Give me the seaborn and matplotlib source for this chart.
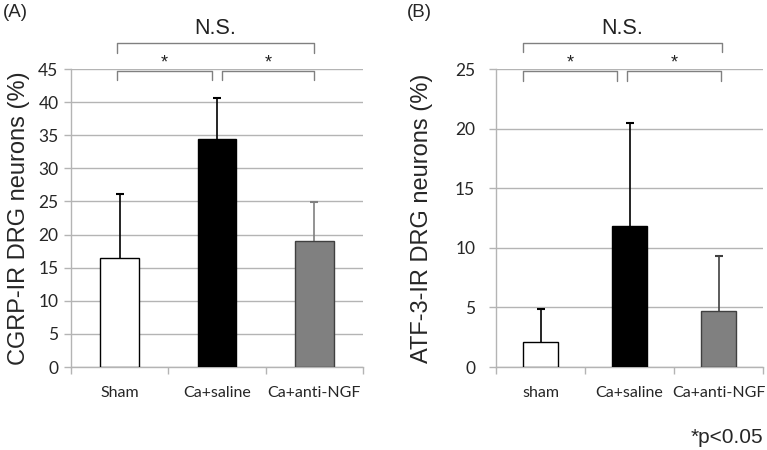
import matplotlib
matplotlib.use("Agg")
import matplotlib.pyplot as plt
import matplotlib.transforms as mtransforms
import numpy as np
import pandas as pd
import seaborn as sns

# data
groups_a = ["Sham", "Ca+saline", "Ca+anti-NGF"]
cgrp_mean = [16.4, 34.4, 19.1]
cgrp_sd = [9.7, 6.2, 5.8]

groups_b = ["sham", "Ca+saline", "Ca+anti-NGF"]
atf3_mean = [2.1, 11.8, 4.7]
atf3_sd = [2.8, 8.7, 4.6]

bar_colors = ["#ffffff", "#000000", "#808080"]
edge_colors = ["#000000", "#000000", "#404040"]

sns.set_style("white")
plt.rcParams["font.family"] = ["Liberation Sans", "DejaVu Sans"]

fig = plt.figure(figsize=(7.67, 4.5), dpi=100)
ax_a = fig.add_axes([0.0926, 0.1844, 0.3807, 0.6622])
ax_b = fig.add_axes([0.6467, 0.1844, 0.3481, 0.6622])

GRID = "#b4b4b4"


def draw_panel(ax, groups, means, sds, ymax, ystep, ylabel, err_colors,
               ypad, lpad):
    df = pd.DataFrame({"group": groups, "value": means})
    sns.barplot(data=df, x="group", y="value", hue="group", palette=bar_colors,
                width=0.4, legend=False, ax=ax)
    for patch, ec in zip(ax.patches, edge_colors):
        patch.set_edgecolor(ec)
        patch.set_linewidth(1.0)
        patch.set_zorder(3)
    # upper-only error bars with a single cap
    for i, (m, s) in enumerate(zip(means, sds)):
        ax.vlines(i, m, m + s, color=err_colors[i], linewidth=1.2, zorder=2.5)
        ax.plot([i], [m + s], marker="_", markersize=6, markeredgewidth=1.5,
                color=err_colors[i], zorder=2.5)
    ax.set_ylim(0, ymax)
    ax.set_xlim(-0.5, 2.5)
    ax.set_yticks(np.arange(0, ymax + 0.1, ystep))
    ax.yaxis.grid(True, color=GRID, linewidth=1.0, zorder=0)
    ax.set_axisbelow(True)
    for side in ["top", "right"]:
        ax.spines[side].set_visible(False)
    for side in ["left", "bottom"]:
        ax.spines[side].set_color(GRID)
        ax.spines[side].set_linewidth(1.0)
    ax.tick_params(axis="y", direction="out", length=5, color=GRID, width=1.0,
                   labelsize=12.5, pad=ypad, left=True)
    # x ticks at the category boundaries, labels at centres
    ax.set_xticks([0, 1, 2])
    ax.set_xticklabels(groups, fontsize=11.5, family=["Lato", "DejaVu Sans"])
    ax.tick_params(axis="x", length=0, pad=14)
    ax.set_xticks([-0.5, 0.5, 1.5, 2.5], minor=True)
    ax.tick_params(axis="x", which="minor", direction="out", length=5,
                   color=GRID, width=1.0, bottom=True)
    for lab in ax.get_yticklabels():
        lab.set_family(["Lato", "DejaVu Sans"])
    ax.set_xlabel("")
    ax.set_ylabel(ylabel, fontsize=17, labelpad=lpad)


def bracket(ax, x0, x1, y_top, y_bot, text, ty, fs):
    tr = mtransforms.blended_transform_factory(ax.transData, ax.transAxes)
    ax.plot([x0, x0, x1, x1], [y_bot, y_top, y_top, y_bot], color="#808080",
            linewidth=1.0, transform=tr, clip_on=False)
    ax.text((x0 + x1) / 2, ty, text, transform=tr, ha="center", va="center",
            fontsize=fs, color="#222222")


draw_panel(ax_a, groups_a, cgrp_mean, cgrp_sd, 45, 5,
           "CGRP-IR DRG neurons (%)", ["#000000", "#000000", "#808080"], 4, 6)
draw_panel(ax_b, groups_b, atf3_mean, atf3_sd, 25, 5,
           "ATF-3-IR DRG neurons (%)", ["#000000", "#000000", "#404040"], 10, 16)

# significance brackets
bracket(ax_a, -0.03, 2.0, 1.087, 1.054, "N.S.", 1.135, 15.5)
bracket(ax_a, -0.03, 0.95, 0.993, 0.962, "*", 1.02, 13)
bracket(ax_a, 1.05, 2.0, 0.993, 0.962, "*", 1.02, 13)

bracket(ax_b, -0.2, 2.04, 1.087, 1.057, "N.S.", 1.135, 15.5)
bracket(ax_b, -0.2, 0.86, 0.993, 0.96, "*", 1.02, 13)
bracket(ax_b, 0.97, 2.03, 0.993, 0.96, "*", 1.02, 13)

fig.text(0.004, 0.972, "(A)", fontsize=13.5, ha="left", va="center")
fig.text(0.530, 0.972, "(B)", fontsize=13.5, ha="left", va="center")
fig.text(0.995, 0.028, "*p<0.05", fontsize=15, ha="right", va="center")

fig.savefig("out.png", dpi=100)
